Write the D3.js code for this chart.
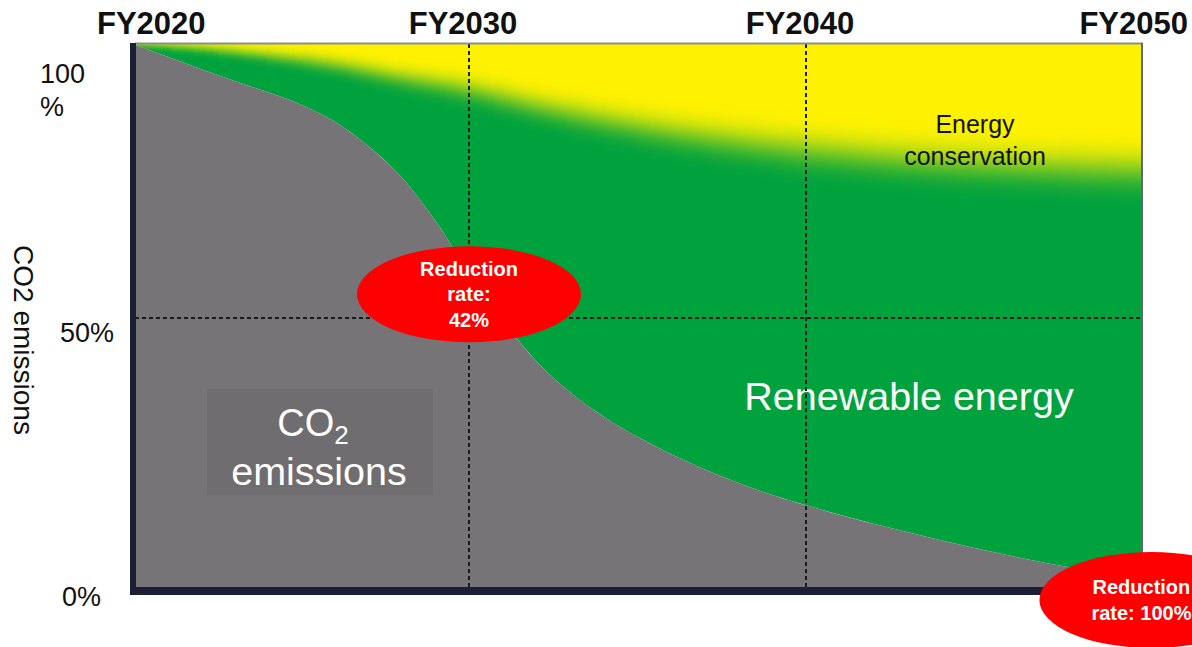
<!DOCTYPE html>
<html>
<head>
<meta charset="utf-8">
<script src="https://cdn.jsdelivr.net/npm/d3@7/dist/d3.min.js"></script>
<style>
  html, body { margin: 0; padding: 0; background: #fff; }
  svg { display: block; font-family: "Liberation Sans", Arial, sans-serif; }
</style>
</head>
<body>
<div id="chart"></div>
<script>
// --- Data ---
// remaining CO2 emissions, % of FY2020
const CO2_YEARS = [2020, 2021, 2022, 2023, 2024, 2025, 2026, 2027, 2028, 2029, 2030,
                   2031, 2032, 2033, 2034, 2035, 2036, 2037, 2038, 2039, 2040,
                   2042, 2044, 2046, 2048, 2050];
const CO2_SHARE = [100, 97.8, 95.5, 93.3, 91.2, 88.9, 85.8, 81.3, 75.5, 67.5, 58,
                   49.2, 41.7, 36.0, 31.5, 27.8, 24.6, 21.8, 19.3, 17.1, 15.2,
                   11.8, 8.8, 6.0, 3.6, 1.8];

// upper edge of renewable energy (above it: energy conservation)
const RE_YEARS = [2020, 2022, 2024, 2026, 2028, 2030, 2032, 2034, 2036, 2038, 2040,
                  2042, 2044, 2046, 2048, 2050];
const RE_TOP = [100, 99.2, 97.9, 96.2, 93.8, 91.6, 88.6, 86.0, 83.8, 82.0, 80.5,
                79.3, 78.4, 77.7, 77.2, 76.8];

const AXIS_YEARS = [2020, 2030, 2040, 2050];
const AXIS_LABELS = ["FY2020", "FY2030", "FY2040", "FY2050"];
const GRID_YEARS = [2030, 2040];
const GRID_PCT = [50];
const Y_TICKS = [100, 50, 0];
const Y_TICK_LABELS = [["100", "%"], ["50%"], ["0%"]];

const ANNOT_YEARS = [2030, 2050.25];
const ANNOT_PCT = [54, -2.2];
const ANNOT_TEXT = [["Reduction", "rate:", "42%"], ["Reduction", "rate: 100%"]];

// --- Layout ---
const W = 1192, H = 647;
const PLOT = { left: 135, right: 1143, top: 44, bottom: 588 };

const COLORS = {
  co2: "#767476",
  co2Box: "#6f6d6f",
  renewable: "#00a23e",
  conservation: "#fff200",
  frame: "#1b1f35",
  grid: "#1a1a1a",
  badge: "#ff0000"
};

const svg = d3.select("#chart").append("svg")
  .attr("width", W)
  .attr("height", H);

svg.append("rect").attr("width", W).attr("height", H).attr("fill", "#fff");

const x = d3.scaleLinear().domain([2020, 2050]).range([132, 1143]);
const y = d3.scaleLinear().domain([0, 100]).range([PLOT.bottom, PLOT.top]);

const co2 = CO2_YEARS.map((yr, i) => ({ year: yr, v: CO2_SHARE[i] }));
const re = RE_YEARS.map((yr, i) => ({ year: yr, v: RE_TOP[i] }));

const defs = svg.append("defs");
defs.append("clipPath").attr("id", "plot-clip")
  .append("rect")
  .attr("x", PLOT.left).attr("y", PLOT.top)
  .attr("width", PLOT.right - PLOT.left)
  .attr("height", PLOT.bottom - PLOT.top);

const plot = svg.append("g").attr("clip-path", "url(#plot-clip)");

// renewable energy (everything above the CO2 curve)
plot.append("path")
  .datum(co2)
  .attr("fill", COLORS.renewable)
  .attr("d", d3.area()
    .x(d => x(d.year))
    .y0(y(100) - 5)
    .y1(d => y(d.v))
    .curve(d3.curveMonotoneX));

// energy conservation band: its lower edge fades into green,
// softly on the left and more widely towards FY2050 -> draw in pixel-aligned strips
const reArea = d3.area()
  .x(d => x(d.year))
  .y0(y(100) - 90)
  .y1(d => y(d.v))
  .curve(d3.curveMonotoneX);

const fadeWidth = d3.scaleLinear()
  .domain([2020, 2030, 2040, 2050])
  .range([3, 11, 16, 17]);

const STRIP_PX = 12;
const stripEdges = d3.range(PLOT.left, PLOT.right, STRIP_PX).concat([PLOT.right]);
stripEdges.slice(0, -1).forEach((x0, s) => {
  const x1 = stripEdges[s + 1];
  const sd = fadeWidth(x.invert((x0 + x1) / 2));
  defs.append("clipPath").attr("id", "strip-" + s)
    .append("rect")
    .attr("x", x0).attr("y", 0)
    .attr("width", x1 - x0).attr("height", H)
    .attr("shape-rendering", "crispEdges");
  defs.append("filter").attr("id", "fade-" + s)
    .attr("filterUnits", "userSpaceOnUse")
    .attr("x", 0).attr("y", 0).attr("width", W).attr("height", H)
    .append("feGaussianBlur").attr("stdDeviation", `0 ${sd.toFixed(2)}`);
  plot.append("g").attr("clip-path", `url(#strip-${s})`)
    .append("path")
    .datum(re)
    .attr("fill", COLORS.conservation)
    .attr("filter", `url(#fade-${s})`)
    .attr("d", reArea);
});

// remaining CO2 emissions
plot.append("path")
  .datum(co2)
  .attr("fill", COLORS.co2)
  .attr("d", d3.area()
    .x(d => x(d.year))
    .y0(y(0))
    .y1(d => y(d.v))
    .curve(d3.curveCatmullRom.alpha(0.5)));

// --- area labels ---
svg.append("rect")
  .attr("x", 207).attr("y", 389)
  .attr("width", 226).attr("height", 106)
  .attr("fill", COLORS.co2Box);

const co2Label = svg.append("text")
  .attr("x", 313).attr("y", 436)
  .attr("text-anchor", "middle")
  .attr("fill", "#fff")
  .style("font-size", "38px");
co2Label.append("tspan").text("CO");
co2Label.append("tspan").attr("dy", 8).style("font-size", "26px").text("2");

svg.append("text")
  .attr("x", 319).attr("y", 485)
  .attr("text-anchor", "middle")
  .attr("fill", "#fff")
  .style("font-size", "39.5px")
  .text("emissions");

svg.append("text")
  .attr("x", 909).attr("y", 410)
  .attr("text-anchor", "middle")
  .attr("fill", "#fff")
  .style("font-size", "39.5px")
  .text("Renewable energy");

const ecLabel = svg.append("text")
  .attr("text-anchor", "middle")
  .attr("fill", "#111")
  .style("font-size", "25px");
ecLabel.append("tspan").attr("x", 975).attr("y", 133).text("Energy");
ecLabel.append("tspan").attr("x", 975).attr("y", 165).text("conservation");

// --- dashed grid ---
const grid = svg.append("g")
  .attr("stroke", COLORS.grid)
  .attr("stroke-width", 2)
  .attr("stroke-dasharray", "4,3");

grid.selectAll("line.v")
  .data(GRID_YEARS)
  .join("line")
  .attr("class", "v")
  .attr("x1", d => x(d)).attr("x2", d => x(d))
  .attr("y1", PLOT.top).attr("y2", PLOT.bottom);

grid.selectAll("line.h")
  .data(GRID_PCT)
  .join("line")
  .attr("class", "h")
  .attr("x1", PLOT.left).attr("x2", PLOT.right)
  .attr("y1", d => y(d) + 2).attr("y2", d => y(d) + 2);

// --- frame ---
svg.append("line")
  .attr("x1", PLOT.left).attr("x2", PLOT.right)
  .attr("y1", PLOT.top - 0.5).attr("y2", PLOT.top - 0.5)
  .attr("stroke", "#8b8e8c").attr("stroke-width", 2);
svg.append("line")
  .attr("x1", PLOT.right - 1).attr("x2", PLOT.right - 1)
  .attr("y1", PLOT.top - 1).attr("y2", PLOT.bottom)
  .attr("stroke", "#5f6770").attr("stroke-width", 2);
svg.append("rect")
  .attr("x", 130).attr("y", PLOT.top - 1)
  .attr("width", 6).attr("height", PLOT.bottom - PLOT.top + 8)
  .attr("fill", COLORS.frame);
svg.append("rect")
  .attr("x", 130).attr("y", PLOT.bottom - 1)
  .attr("width", PLOT.right - 130).attr("height", 8)
  .attr("fill", COLORS.frame);

// --- top year labels ---
svg.selectAll("text.year")
  .data(AXIS_YEARS)
  .join("text")
  .attr("class", "year")
  .attr("x", (d, i) => i === 0 ? x(d) - 35 : (i === AXIS_YEARS.length - 1 ? x(d) + 45 : x(d) - 6))
  .attr("y", 34)
  .attr("text-anchor", (d, i) => i === 0 ? "start" : (i === AXIS_YEARS.length - 1 ? "end" : "middle"))
  .attr("fill", "#111")
  .style("font-size", "31px")
  .style("font-weight", "bold")
  .text((d, i) => AXIS_LABELS[i]);

// --- y labels ---
const yLabelX = { 100: 40, 50: 60, 0: 62 };
const yLabelDy = { 100: 39, 50: 26, 0: 18 };
Y_TICKS.forEach((t, i) => {
  const lbl = svg.append("text")
    .attr("fill", "#111")
    .style("font-size", "27px");
  Y_TICK_LABELS[i].forEach((line, j) => {
    lbl.append("tspan")
      .attr("x", yLabelX[t])
      .attr("y", y(t) + yLabelDy[t] + j * 33)
      .text(line);
  });
});

svg.append("text")
  .attr("transform", `translate(14, ${(y(100) + y(0)) / 2 + 24}) rotate(90)`)
  .attr("text-anchor", "middle")
  .attr("fill", "#111")
  .style("font-size", "28px")
  .text("CO2 emissions");

// --- reduction-rate badges ---
ANNOT_YEARS.forEach((yr, i) => {
  const cx = x(yr), cy = y(ANNOT_PCT[i]);
  const g = svg.append("g");
  g.append("ellipse")
    .attr("cx", cx).attr("cy", cy)
    .attr("rx", 112).attr("ry", 48)
    .attr("fill", COLORS.badge);
  const lines = ANNOT_TEXT[i];
  const t = g.append("text")
    .attr("text-anchor", "middle")
    .attr("fill", "#fff")
    .style("font-size", "20px")
    .style("font-weight", "bold");
  const startY = cy - (lines.length - 1) * 25.5 / 2 + 7;
  lines.forEach((line, j) => {
    t.append("tspan")
      .attr("x", i === 0 ? cx : cx - 10)
      .attr("y", startY + j * 25.5)
      .text(line);
  });
});
</script>
</body>
</html>
